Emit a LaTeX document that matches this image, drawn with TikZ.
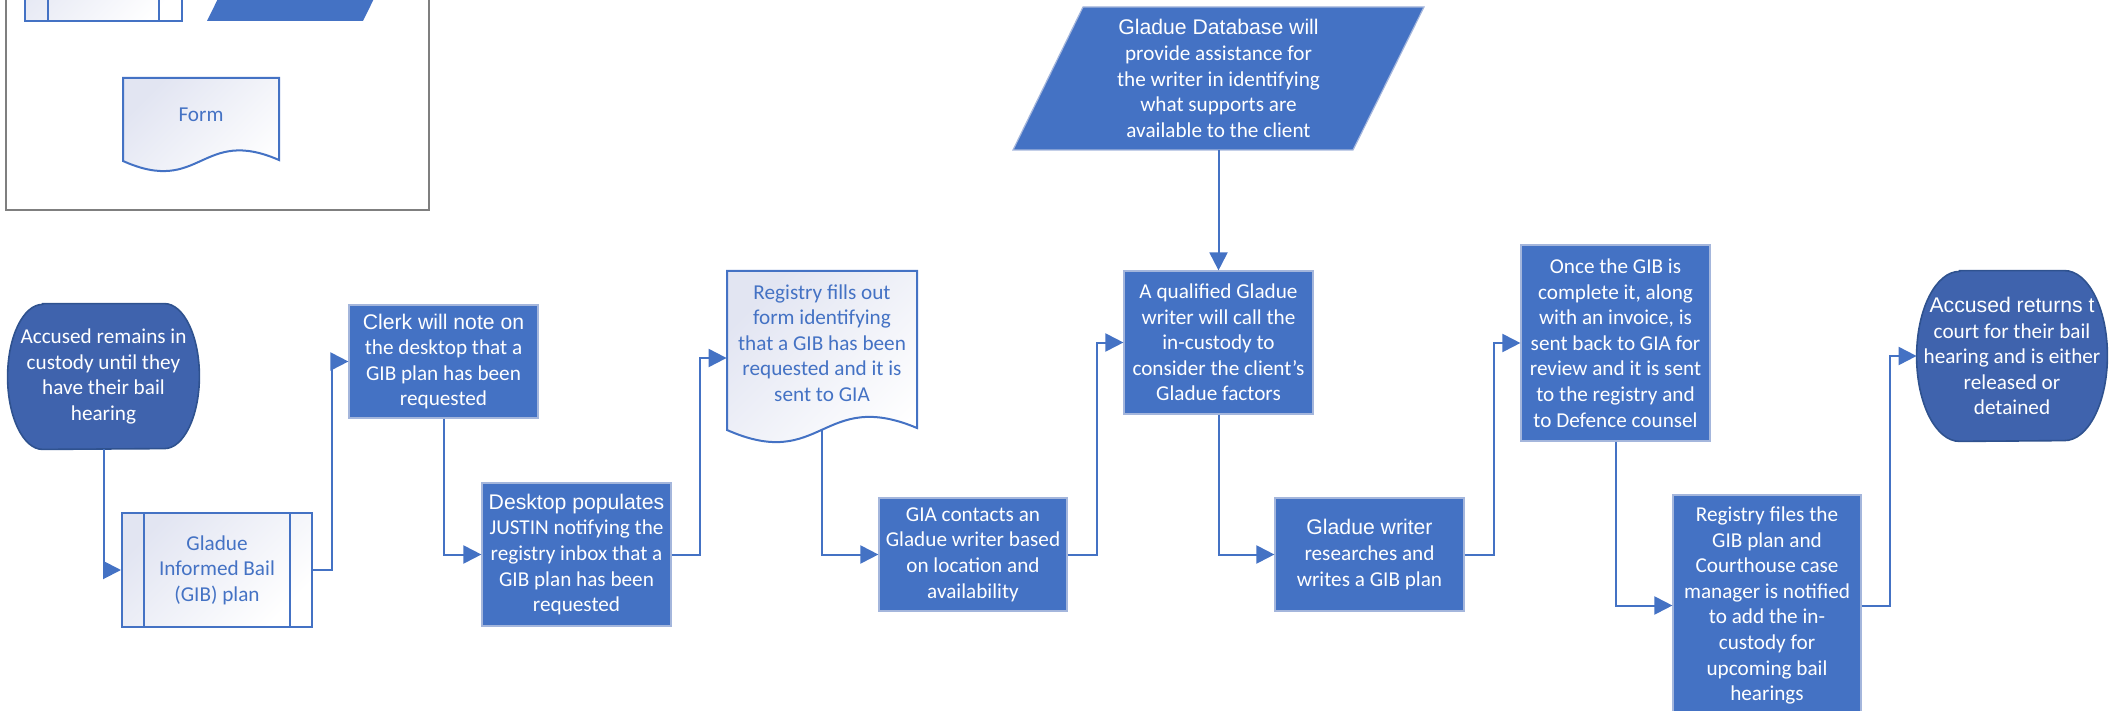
\documentclass[tikz,border=0pt]{standalone}
\usepackage{fontspec}
\setmainfont{Carlito}
\newfontfamily\hdfont{Liberation Sans}
\usepackage{tikz}
\usetikzlibrary{arrows.meta, positioning, backgrounds, calc}
\definecolor{boxblue}{HTML}{4472C4}
\definecolor{boxedge}{HTML}{A4B6DC}
\definecolor{termblue}{HTML}{3F63AD}
\definecolor{termedge}{HTML}{2F528F}
\definecolor{lineblue}{HTML}{4472C4}
\definecolor{lavend}{HTML}{E2E5F2}
\definecolor{legendgray}{HTML}{7F7F7F}

\begin{document}
\begin{tikzpicture}[
        x=0.5pt, y=-0.5pt,
        every node/.style={font=\fontsize{10.6}{12.8}\selectfont, align=center, inner sep=0pt},
        procbox/.style={draw=boxedge, line width=0.6pt, fill=boxblue, text=white, minimum width=94.5pt},
        lightbox/.style={draw=lineblue, line width=1pt, top color=lavend, bottom color=white, shading angle=45, text=lineblue},
        termbox/.style={text=white},
        termshape/.style={fill=termblue, draw=termedge, line width=0.8pt},
        flow/.style={draw=lineblue, line width=1pt, -{Triangle[length=9pt, width=9pt]}}
    ]
        \useasboundingbox (0,0) rectangle (2119,711);
        \clip (0,0) rectangle (2119,711);

        % legend
        \draw[draw=legendgray, line width=1pt] (6,-20) rectangle (429,210);
        \path[lightbox] (25,-60) rectangle (182,21);
        \draw[draw=lineblue, line width=1pt] (48,-60) -- (48,21) (159,-60) -- (159,21);
        \path[fill=boxblue] (237,-40) -- (393,-40) -- (363,21) -- (207,21) -- cycle;
        \path[lightbox] (123,78) -- (279,78) -- (279,160) .. controls (201,126) and (201,196) .. (123,161) -- cycle;
        \node[text=lineblue] (legform) at (201,115) {Form};

        % shapes drawn behind their text
        \path[lightbox] (727,271) -- (917,271) -- (917,428) .. controls (822,388) and (822,472) .. (727,430) -- cycle;
        \path[fill=boxblue, draw=boxedge, line width=0.6pt] (1083,7) -- (1424,7) -- (1353,150) -- (1013,150) -- cycle;

        \node[termbox, minimum width=95.5pt, minimum height=72.5pt] (start) at (103.5,376.5)
            {Accused remains in\\custody until they\\have their bail\\hearing};
        \node[lightbox, minimum width=95pt, minimum height=57pt] (gib) at (217,570)
            {Gladue\\Informed Bail\\(GIB) plan};
        \draw[draw=lineblue, line width=1pt] ([xshift=11.5pt]gib.north west) -- ([xshift=11.5pt]gib.south west)
            ([xshift=-11.5pt]gib.north east) -- ([xshift=-11.5pt]gib.south east);
        \node[procbox, minimum height=56.5pt] (clerk) at (443.5,361.5)
            {{\hdfont Clerk will note on}\\the desktop that a\\GIB plan has been\\requested};
        \node[procbox, minimum height=71.5pt] (desktop) at (576.5,554.5)
            {{\hdfont Desktop populates}\\JUSTIN notifying the\\registry inbox that a\\GIB plan has been\\requested};
        \node[text=lineblue, minimum width=95pt, minimum height=87pt] (regform) at (822,343)
            {Registry fills out\\form identifying\\that a GIB has been\\requested and it is\\sent to GIA};
        \node[procbox, minimum width=94pt, minimum height=56.5pt] (gia) at (973,554.5)
            {GIA contacts an\\Gladue writer based\\on location and\\availability};
        \node[text=white, minimum width=100pt, minimum height=71.5pt] (db) at (1218.5,78.5)
            {{\hdfont Gladue Database will}\\provide assistance for\\the writer in identifying\\what supports are\\available to the client};
        \node[procbox, minimum height=71.5pt] (qual) at (1218.5,342.5)
            {A qualified Gladue\\writer will call the\\in-custody to\\consider the client’s\\Gladue factors};
        \node[procbox, minimum height=56.5pt] (writer) at (1369.5,554.5)
            {{\hdfont Gladue writer}\\researches and\\writes a GIB plan};
        \node[procbox, minimum height=98pt] (once) at (1615.5,343)
            {Once the GIB is\\complete it, along\\with an invoice, is\\sent back to GIA for\\review and it is sent\\to the registry and\\to Defence counsel};
        \node[procbox, minimum width=94pt, minimum height=110.5pt] (files) at (1767,605.5)
            {Registry files the\\GIB plan and\\Courthouse case\\manager is notified\\to add the in-\\custody for\\upcoming bail\\hearings};
        \node[termbox, minimum width=95pt, minimum height=85pt] (ret) at (2012,356)
            {{\hdfont Accused returns t}\\court for their bail\\hearing and is either\\released or\\detained};

        \begin{scope}[on background layer]
            \foreach \n/\rx/\ry in {start/17.5/36.25, ret/21.5/42.5} {
                \path[termshape] ([xshift=\rx pt]\n.north west) -- ([xshift=-\rx pt]\n.north east)
                    arc[start angle=90, end angle=-90, x radius=\rx pt, y radius=\ry pt]
                    -- ([xshift=\rx pt]\n.south west)
                    arc[start angle=270, end angle=90, x radius=\rx pt, y radius=\ry pt] -- cycle;
            }
        \end{scope}

        \draw[flow] (start.south) |- (gib.west);
        \draw[flow] (gib.east) -- ++(19,0) |- (clerk.west);
        \draw[flow] (clerk.south) |- (desktop.west);
        \draw[flow] (desktop.east) -- ++(28,0) |- ([yshift=-7.5pt]regform.west);
        \draw[flow] (regform.south) |- (gia.west);
        \draw[flow] (gia.east) -- ++(29,0) |- (qual.west);
        \draw[flow] (db.south) -- (qual.north);
        \draw[flow] (qual.south) |- (writer.west);
        \draw[flow] (writer.east) -- ++(29,0) |- (once.west);
        \draw[flow] (once.south) |- (files.west);
        \draw[flow] (files.east) -- ++(28,0) |- (ret.west);
    \end{tikzpicture}
\end{document}
